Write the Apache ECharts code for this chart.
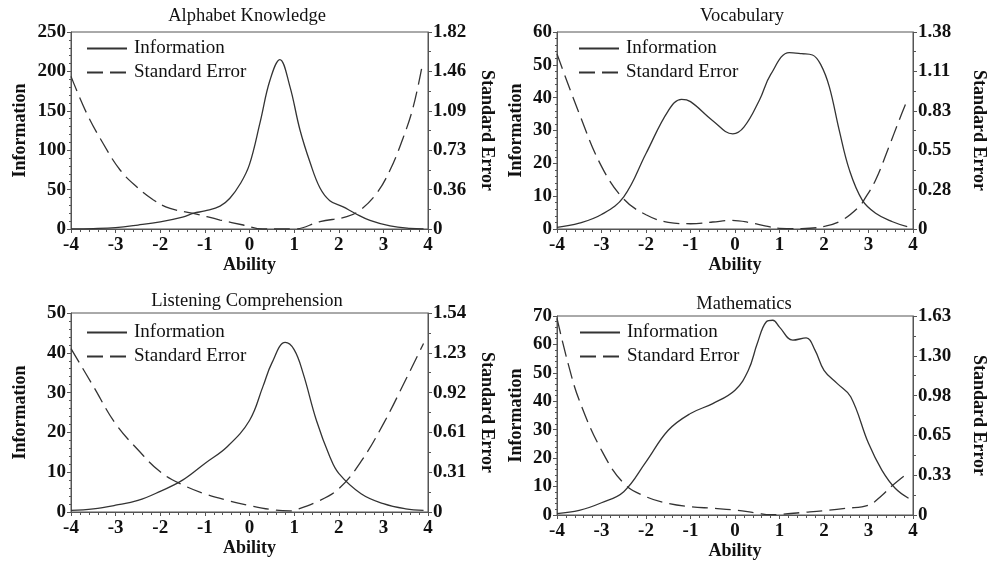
<!DOCTYPE html>
<html><head><meta charset="utf-8">
<script src="https://cdn.jsdelivr.net/npm/echarts@6/dist/echarts.min.js"></script>
<style>html,body{margin:0;padding:0;background:#fff}#c{width:989px;height:561px}</style>
</head><body><div id="c"></div>
<script>
// ---------- DATA ----------
const panelTitles = ['Alphabet Knowledge', 'Vocabulary', 'Listening Comprehension', 'Mathematics'];
const xTicks = [-4, -3, -2, -1, 0, 1, 2, 3, 4];

// Alphabet Knowledge
const alphaInfoX = [-4, -3.5, -3, -2.5, -2, -1.5, -1.25, -1, -0.66, -0.44, -0.2, 0, 0.24, 0.46, 0.68, 0.9, 1.13, 1.36, 1.58, 1.8, 2.1, 2.36, 2.7, 3.15, 3.6, 3.9];
const alphaInfo  = [0.2, 0.6, 1.8, 5, 9, 15, 20, 23, 29, 39, 58, 82, 136, 189, 215, 182, 126, 84, 52, 36, 28, 20, 11, 4, 0.8, 0.2];
const alphaSeX = [-4, -3.65, -3.28, -2.9, -2.53, -2.16, -1.78, -1.26, -0.66, -0.14, 0.3, 1.0, 1.58, 2.18, 2.48, 2.85, 3.15, 3.45, 3.67, 3.88];
const alphaSe  = [1.41, 1.07, 0.79, 0.545, 0.39, 0.27, 0.19, 0.145, 0.083, 0.037, 0.0, 0.0, 0.068, 0.114, 0.175, 0.33, 0.545, 0.85, 1.13, 1.53];
const alphaInfoTicks = [0, 50, 100, 150, 200, 250];
const alphaSeTicks = ['0', '0.36', '0.73', '1.09', '1.46', '1.82'];
const alphaSeMax = 1.82;

// Vocabulary
const vocabInfoX = [-4, -3.5, -3, -2.5, -2, -1.5, -1.2, -1, -0.5, -0.05, 0.2, 0.55, 0.8, 1.22, 1.5, 1.74, 1.93, 2.12, 2.34, 2.57, 2.86, 3.16, 3.54, 3.87];
const vocabInfo  = [0.5, 1.8, 4.4, 9.8, 23, 36, 39.5, 38.8, 33, 29, 31, 39.3, 47, 53.7, 53.4, 53, 50, 43.3, 30.2, 18, 8.8, 4.8, 2.2, 0.7];
const vocabSeX = [-4, -3.5, -3, -2.5, -2, -1.5, -1, -0.5, -0.1, 0.3, 0.7, 1, 1.5, 2.03, 2.41, 2.79, 2.9, 3.16, 3.46, 3.69, 3.87];
const vocabSe  = [1.23, 0.81, 0.44, 0.21, 0.10, 0.047, 0.037, 0.049, 0.06, 0.047, 0.02, 0.005, 0.003, 0.02, 0.063, 0.157, 0.204, 0.344, 0.578, 0.765, 0.906];
const vocabInfoTicks = [0, 10, 20, 30, 40, 50, 60];
const vocabSeTicks = ['0', '0.28', '0.55', '0.83', '1.11', '1.38'];
const vocabSeMax = 1.3835;

// Listening Comprehension
const listenInfoX = [-4, -3.5, -3, -2.5, -2, -1.5, -1, -0.5, 0, 0.3, 0.5, 0.8, 1.0, 1.2, 1.5, 1.8, 2.0, 2.5, 3, 3.5, 3.9];
const listenInfo  = [0.4, 0.8, 1.7, 2.9, 5.2, 8.0, 12.2, 16.4, 23, 31.5, 37.4, 42.6, 40.8, 34.9, 23, 13.9, 9.7, 4.6, 2.1, 0.8, 0.4];
const listenSeX = [-4, -3.5, -3, -2.5, -2, -1.5, -1, -0.5, 0, 0.5, 0.9, 1.0, 1.5, 2, 2.5, 3, 3.5, 3.9];
const listenSe  = [1.26, 0.97, 0.68, 0.48, 0.31, 0.21, 0.14, 0.09, 0.05, 0.018, 0.008, 0.013, 0.077, 0.18, 0.39, 0.68, 1.02, 1.30];
const listenInfoTicks = [0, 10, 20, 30, 40, 50];
const listenSeTicks = ['0', '0.31', '0.61', '0.92', '1.23', '1.54'];
const listenSeMax = 1.535;

// Mathematics
const mathInfoX = [-4, -3.5, -3, -2.5, -2, -1.5, -1, -0.5, 0, 0.3, 0.5, 0.7, 0.85, 1.0, 1.3, 1.6, 1.8, 2.0, 2.3, 2.6, 3.0, 3.3, 3.6, 3.9];
const mathInfo  = [0.5, 1.6, 4.3, 8.2, 18.7, 29.8, 35.7, 39.2, 43.9, 50.9, 60.3, 67.9, 68.5, 66.1, 61.5, 62.3, 57.9, 50.9, 46.2, 41.6, 25.2, 15.8, 9.4, 5.9];
const mathSeX = [-4, -3.75, -3.5, -3, -2.5, -2, -1.5, -1, -0.5, 0, 0.5, 0.8, 1.0, 1.5, 2, 2.5, 3, 3.3, 3.5, 3.8];
const mathSe  = [1.61, 1.24, 0.94, 0.53, 0.26, 0.15, 0.095, 0.068, 0.055, 0.041, 0.015, 0.003, 0.005, 0.02, 0.035, 0.055, 0.08, 0.16, 0.23, 0.32];
const mathInfoTicks = [0, 10, 20, 30, 40, 50, 60, 70];
const mathSeTicks = ['0', '0.33', '0.65', '0.98', '1.30', '1.63'];
const mathSeMax = 1.63;

// ---------- BUILD ----------
const panelsData = [
  {infoX: alphaInfoX, info: alphaInfo, seX: alphaSeX, se: alphaSe, infoTicks: alphaInfoTicks, seTicks: alphaSeTicks, seMax: alphaSeMax},
  {infoX: vocabInfoX, info: vocabInfo, seX: vocabSeX, se: vocabSe, infoTicks: vocabInfoTicks, seTicks: vocabSeTicks, seMax: vocabSeMax},
  {infoX: listenInfoX, info: listenInfo, seX: listenSeX, se: listenSe, infoTicks: listenInfoTicks, seTicks: listenSeTicks, seMax: listenSeMax},
  {infoX: mathInfoX, info: mathInfo, seX: mathSeX, se: mathSe, infoTicks: mathInfoTicks, seTicks: mathSeTicks, seMax: mathSeMax}
];

const layout = [
  {left: 71, top: 32, width: 357, height: 197, title: [247, 16], legend: [86, 39], infoGap: 42, seGap: 50, abilityGap: 26},
  {left: 557, top: 32, width: 357, height: 197, title: [742, 16], legend: [578, 39], infoGap: 32, seGap: 57, abilityGap: 26},
  {left: 71, top: 313, width: 357, height: 199, title: [247, 301], legend: [86, 323], infoGap: 42, seGap: 50, abilityGap: 27},
  {left: 557, top: 316, width: 357, height: 199, title: [744, 304], legend: [579, 323], infoGap: 32, seGap: 57, abilityGap: 25}
];

const FONT = 'Liberation Serif';
const AX = '#555';
const LINE = '#333';
const zip = (xs, ys) => xs.map((x, i) => [x, ys[i]]);

const option = {
  animation: false,
  backgroundColor: '#fff',
  grid: [], xAxis: [], yAxis: [], series: [], legend: [], graphic: []
};

layout.forEach((L, i) => {
  const D = panelsData[i];
  option.grid.push({left: L.left, top: L.top, width: L.width, height: L.height, show: true,
    borderColor: AX, borderWidth: 1, backgroundColor: 'transparent'});
  option.xAxis.push({
    type: 'value', gridIndex: i, min: xTicks[0], max: xTicks[xTicks.length - 1], interval: 1,
    name: 'Ability', nameLocation: 'middle', nameGap: L.abilityGap,
    nameTextStyle: {fontFamily: FONT, fontSize: 18, fontWeight: 'bold', color: '#111'},
    axisLine: {show: true, onZero: false, lineStyle: {color: AX, width: 1}},
    axisTick: {show: true, length: 4, lineStyle: {color: AX}},
    minorTick: {show: true, splitNumber: 5, length: 3, lineStyle: {color: AX}},
    splitLine: {show: false}, minorSplitLine: {show: false},
    axisLabel: {fontFamily: FONT, fontSize: 19, fontWeight: 'bold', color: '#111', margin: 7}
  });
  const tk = D.infoTicks;
  option.yAxis.push({
    type: 'value', gridIndex: i, position: 'left', min: tk[0], max: tk[tk.length - 1], interval: tk[1] - tk[0],
    name: 'Information', nameLocation: 'middle', nameGap: L.infoGap, nameRotate: 90,
    nameTextStyle: {fontFamily: FONT, fontSize: 18, fontWeight: 'bold', color: '#111'},
    axisLine: {show: true, onZero: false, lineStyle: {color: AX, width: 1}},
    axisTick: {show: true, length: 4, lineStyle: {color: AX}},
    minorTick: {show: true, splitNumber: 5, length: 2, lineStyle: {color: AX}},
    splitLine: {show: false}, minorSplitLine: {show: false},
    axisLabel: {fontFamily: FONT, fontSize: 19, fontWeight: 'bold', color: '#111', margin: 5}
  });
  const seInt = D.seMax / 5;
  const seLabels = D.seTicks;
  option.yAxis.push({
    type: 'value', gridIndex: i, position: 'right', min: 0, max: D.seMax, interval: seInt,
    name: 'Standard Error', nameLocation: 'middle', nameGap: L.seGap, nameRotate: -90,
    nameTextStyle: {fontFamily: FONT, fontSize: 18, fontWeight: 'bold', color: '#111'},
    axisLine: {show: true, onZero: false, lineStyle: {color: AX, width: 1}},
    axisTick: {show: true, length: 4, lineStyle: {color: AX}},
    minorTick: {show: true, splitNumber: 2, length: 3, lineStyle: {color: AX}},
    splitLine: {show: false}, minorSplitLine: {show: false},
    axisLabel: {fontFamily: FONT, fontSize: 19, fontWeight: 'bold', color: '#111', margin: 5,
      formatter: v => seLabels[Math.round(v / seInt)]}
  });
  option.series.push({
    name: 'Information', type: 'line', xAxisIndex: i, yAxisIndex: 2 * i,
    data: zip(D.infoX, D.info), smooth: 0.4, symbol: 'none', showSymbol: false, clip: true,
    lineStyle: {color: LINE, width: 1.3, type: 'solid'}, itemStyle: {color: LINE}
  });
  option.series.push({
    name: 'Standard Error', type: 'line', xAxisIndex: i, yAxisIndex: 2 * i + 1,
    data: zip(D.seX, D.se), smooth: 0.4, symbol: 'none', showSymbol: false, clip: true,
    lineStyle: {color: LINE, width: 1.3, type: [16, 7]}, itemStyle: {color: LINE}
  });
  option.legend.push({
    orient: 'vertical', left: L.legend[0], top: L.legend[1], itemWidth: 40, itemHeight: 14, itemGap: 5,
    padding: 0, selectedMode: false, data: ['Information', 'Standard Error'],
    itemStyle: {opacity: 0},
    textStyle: {fontFamily: FONT, fontSize: 19, color: '#111', padding: [0, 0, 0, 2]}
  });
  option.graphic.push({
    type: 'text', x: L.title[0], y: L.title[1],
    style: {text: panelTitles[i], fontFamily: FONT, fontSize: 18.5, fill: '#111', textAlign: 'center', textVerticalAlign: 'middle'}
  });
});

const chart = echarts.init(document.getElementById('c'), null, {renderer: 'canvas'});
chart.setOption(option);
</script>
</body></html>
